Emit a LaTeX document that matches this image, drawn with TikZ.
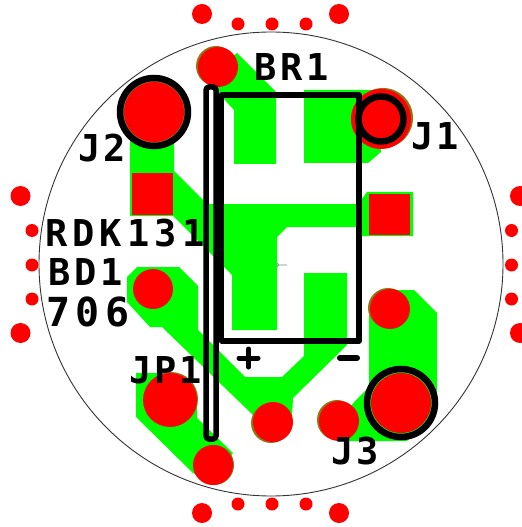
\documentclass[tikz,border=0pt]{standalone}
\usepackage{fontspec}
\setmainfont{DejaVu Sans Mono}[BoldFont={DejaVu Sans Mono Bold}]
\definecolor{pcbgreen}{RGB}{0,255,0}
\definecolor{padgold}{RGB}{140,120,20}
\tikzset{
  copper/.style={fill=pcbgreen,draw=none},
  redpad/.style={fill=red,draw=none},
  goldrim/.style={fill=padgold,draw=none},
  outline/.style={draw=black,line width=5.5bp,line join=round,fill=none},
  ring/.style={draw=black,line width=6.5bp,fill=none},
  silk/.style={inner sep=0pt,outer sep=0pt,anchor=base west,text=black,font=\fontsize{37bp}{37bp}\selectfont\bfseries\addfontfeatures{LetterSpace=11}},
  silktight/.style={silk,font=\fontsize{37bp}{37bp}\selectfont\bfseries\addfontfeatures{LetterSpace=8}},
  silkwide/.style={silk,font=\fontsize{37bp}{37bp}\selectfont\bfseries\addfontfeatures{LetterSpace=14}},
  silkyear/.style={silk,font=\fontsize{40bp}{40bp}\selectfont\bfseries\addfontfeatures{LetterSpace=14}},
  via/.style={fill=red,draw=none}
}
\begin{document}
\begin{tikzpicture}[x=1bp,y=-1bp]
\useasboundingbox (0,0) rectangle (522,527);
\fill[white] (0,0) rectangle (522,527);
% board edge
\draw[black!80,line width=0.9bp] (271,264) circle[radius=232];
% centre mark
\draw[gray,line width=0.6bp] (276.5,265) circle[radius=2] (272,265) -- (287,265);
% edge dots
\foreach \p in {(202,14),(339,14),(202,513),(339,513),(20.5,196),(20.5,333),(520,196),(520,333)}
  \fill[via] \p circle[radius=10];
\foreach \p in {(238,24),(272,24),(306,24),(238,504),(272,504),(306,504),(32,230.5),(32,265),(32,299),(511.5,230.5),(511.5,265),(511.5,299)}
  \fill[via] \p circle[radius=6.5];
% copper
\fill[copper] (237,53) -- (276,92) -- (276,164) -- (234,164) -- (234,110) -- (214,88) -- (218,67) -- cycle;
\fill[copper] (304,90) -- (375,90) -- (381,152) -- (368,163) -- (304,163) -- cycle;
\fill[copper] (130,130) -- (174,130) -- (174,171) -- (207,204) -- (358,204) -- (367,192) -- (413,192) -- (413,236) -- (358,236) -- (358,227) -- (287,227) -- (277,237) -- (277,330) -- (232,330) -- (232,275) -- (173,216) -- (130,216) -- cycle;
\fill[copper] (137,267) -- (179,267) -- (198,286) -- (198,330) -- (245,377) -- (282,377) -- (304,356) -- (304,273) -- (347,273) -- (347,345) -- (293,398) -- (292,417) -- (273,422) -- (253,415) -- (162,327) -- (150,327) -- (127,302) -- (127,277) -- cycle;
\fill[copper] (136,373) -- (170,373) -- (197,400) -- (197,418) -- (233,453) -- (213,485) -- (193,473) -- (136,417) -- cycle;
\fill[copper] (390,290) -- (414,290) -- (437,313) -- (437,410) -- (407,441) -- (340,441) -- (339,421) -- (355,401) -- (369,387) -- (369,310) -- cycle;
\fill[copper] (154,112) circle[radius=32];
\fill[copper] (401,403) circle[radius=32];
% pads
\fill[goldrim] (216,66) circle[radius=20];
\fill[redpad] (218,67) circle[radius=20];
\fill[goldrim] (383,118) circle[radius=30];
\fill[redpad] (381,119) circle[radius=30];
\fill[goldrim] (154,112) circle[radius=31];
\fill[redpad] (154,112) circle[radius=30];
\fill[redpad] (401,403) circle[radius=30];
\fill[redpad] (153,289) circle[radius=20];
\fill[goldrim] (171,399) circle[radius=27];
\fill[redpad] (170,400) circle[radius=27];
\fill[goldrim] (271,423) circle[radius=20];
\fill[redpad] (273,422) circle[radius=20];
\fill[goldrim] (214,465) circle[radius=20];
\fill[redpad] (213,465) circle[radius=20];
\fill[goldrim] (388,308) circle[radius=20];
\fill[redpad] (390,309) circle[radius=20];
\fill[goldrim] (337,420) circle[radius=20];
\fill[redpad] (339,421) circle[radius=20];
\fill[redpad] (132,173) rectangle (173,215);
\fill[redpad] (369,194) rectangle (410,235);
% outlines
\draw[ring] (154,112) circle[radius=34];
\draw[ring] (401,403) circle[radius=34];
\draw[ring] (381,119) circle[radius=22.5];
\draw[outline] (221.5,95) rectangle (359,341);
\draw[outline,rounded corners=3bp] (206,87) rectangle (216,439);
% polarity marks
\draw[black,line width=5bp,line cap=round] (239,358) -- (258,358) (248.5,349) -- (248.5,367);
\draw[black,line width=6bp,line cap=round] (340,358) -- (357,358);
% labels
\node[silk] (br) at (254,81) {BR1};
\node[silktight] (jone) at (411,150) {J1};
\node[silktight] (jtwo) at (78,162) {J2};
\node[silkwide] (rdk) at (45,246) {RDK131};
\node[silk] (bd) at (48,285) {BD1};
\node[silkyear] (yr) at (46,326) {706};
\node[silktight] (jp) at (129,383) {JP1};
\node[silktight] (jthree) at (331,464) {J3};
\end{tikzpicture}
\end{document}
